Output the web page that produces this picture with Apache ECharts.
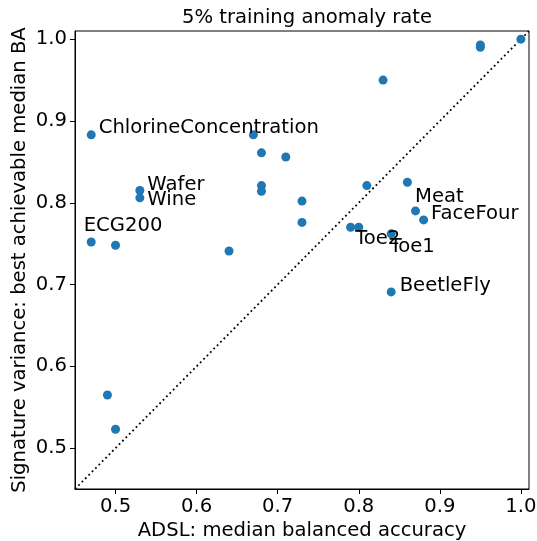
<!DOCTYPE html>
<html>
<head>
<meta charset="utf-8">
<script src="https://cdn.jsdelivr.net/npm/echarts@6/dist/echarts.min.js"></script>
<style>
  html, body { margin: 0; padding: 0; background: #fff; }
  #chart { width: 537px; height: 541px; }
</style>
</head>
<body>
<div id="chart"></div>
<script>
// ADSL median BA (x) vs signature variance best median BA (y)
var adsl = [1.00, 0.95, 0.95, 0.83, 0.47, 0.67, 0.68, 0.71, 0.53, 0.53, 0.68, 0.68, 0.81, 0.86,
            0.73, 0.87, 0.88, 0.73, 0.47, 0.50, 0.64, 0.79, 0.80, 0.84, 0.84, 0.49, 0.50];
var sigVar = [1.000, 0.993, 0.990, 0.950, 0.883, 0.883, 0.861, 0.856, 0.815, 0.806, 0.821, 0.814, 0.821, 0.825,
              0.802, 0.790, 0.779, 0.776, 0.752, 0.748, 0.741, 0.770, 0.770, 0.762, 0.691, 0.565, 0.523];
var names = ['', '', '', '', 'ChlorineConcentration', '', '', '', 'Wafer', 'Wine', '', '', '', '',
             '', 'Meat', 'FaceFour', '', 'ECG200', '', '', 'Toe2', '', 'Toe1', 'BeetleFly', '', ''];
var axisMin = 0.45, axisMax = 1.01;
var ticks = [0.5, 0.6, 0.7, 0.8, 0.9, 1.0];

// where each annotation sits relative to its point
var labelOffsets = {
  'ChlorineConcentration': [-2, -7],
  'Wafer': [-2, -6],
  'Wine': [-2, 2],
  'Meat': [-10, -14],
  'FaceFour': [-2, -6],
  'ECG200': [-17, -16],
  'Toe2': [-5, 12],
  'Toe1': [-11, 13],
  'BeetleFly': [-1, -6]
};

var font = 'DejaVu Sans';
var fs = 19.6;
var pts = adsl.map(function (x, i) {
  var item = { value: [x, sigVar[i]], name: names[i] };
  if (names[i]) {
    item.label = {
      show: true, position: 'right', distance: 5,
      offset: labelOffsets[names[i]],
      formatter: '{b}', color: '#000', fontSize: fs, fontFamily: font
    };
  }
  return item;
});

function axisCommon(name, gap) {
  return {
    type: 'value', min: axisMin, max: axisMax,
    name: name, nameLocation: 'middle', nameGap: gap, nameMoveOverlap: false,
    nameTextStyle: { color: '#000', fontSize: fs, fontFamily: font },
    axisLine: { show: true, onZero: false, lineStyle: { color: '#000', width: 1 } },
    axisTick: { show: true, inside: false, length: 5, lineStyle: { color: '#000' },
                customValues: ticks },
    axisLabel: { color: '#000', fontSize: fs, fontFamily: font, margin: 8,
                 customValues: ticks, formatter: function (v) { return v.toFixed(1); } },
    splitLine: { show: false }
  };
}

var option = {
  animation: false,
  title: {
    text: '5% training anomaly rate', left: 302, top: 3, textAlign: 'center',
    textStyle: { color: '#000', fontSize: fs, fontWeight: 'normal', fontFamily: font }
  },
  grid: { left: 75, right: 8, top: 31, bottom: 52, show: true, outerBoundsMode: 'none',
          containLabel: false, borderColor: '#000', borderWidth: 1, backgroundColor: '#fff' },
  xAxis: axisCommon('ADSL: median balanced accuracy', 32),
  yAxis: axisCommon('Signature variance: best achievable median BA', 45),
  series: [
    {
      type: 'line',
      data: [[axisMin, axisMin], [axisMax, axisMax]],
      symbol: 'none',
      lineStyle: { color: '#000', width: 1.8, type: [1.8, 3] },
      silent: true, z: 1
    },
    {
      type: 'scatter',
      data: pts,
      symbolSize: 9,
      itemStyle: { color: '#1f77b4', opacity: 1 },
      z: 2
    }
  ]
};

var myChart = echarts.init(document.getElementById('chart'));
myChart.setOption(option);
</script>
</body>
</html>
